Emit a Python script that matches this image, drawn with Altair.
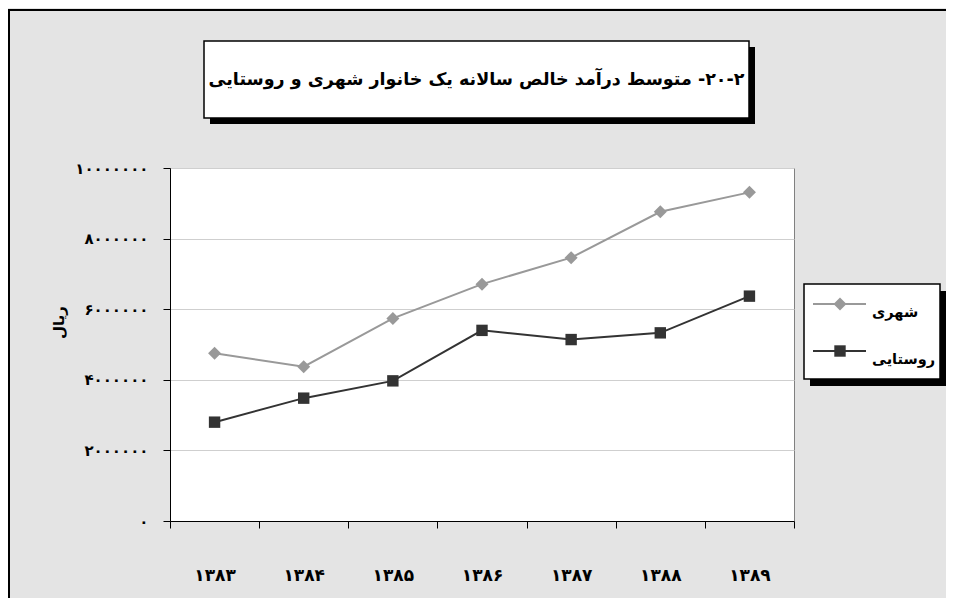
import altair as alt
import pandas as pd

# ---- data ----
years = ["۱۳۸۳", "۱۳۸۴", "۱۳۸۵", "۱۳۸۶", "۱۳۸۷", "۱۳۸۸", "۱۳۸۹"]
urban = [4750000, 4370000, 5740000, 6710000, 7460000, 8760000, 9310000]
rural = [2800000, 3480000, 3970000, 5400000, 5140000, 5330000, 6370000]
series_names = ["شهری", "روستایی"]
series_colors = ["#999999", "#333333"]
series_shapes = ["diamond", "square"]
series_sizes = [169, 130]
y_tick_values = [0, 2000000, 4000000, 6000000, 8000000, 10000000]
y_tick_labels = ["۰", "۲۰۰۰۰۰۰", "۴۰۰۰۰۰۰", "۶۰۰۰۰۰۰", "۸۰۰۰۰۰۰", "۱۰۰۰۰۰۰۰"]
title_text = "\u202b۲\u200f-۲۰\u200f- متوسط درآمد خالص سالانه یک خانوار شهری و روستایی\u202c"
y_title = "ریال"

FONT = "DejaVu Sans"
W, H = 624, 353

df = pd.DataFrame({
    "year": years * 2,
    "value": urban + rural,
    "series": [series_names[0]] * len(years) + [series_names[1]] * len(years),
})
legend_df = pd.DataFrame({"series": series_names, "idx": list(range(len(series_names)))})

label_expr = "{}[indexof({}, datum.value)]".format(
    "[" + ",".join("'%s'" % s for s in y_tick_labels) + "]",
    "[" + ",".join(str(v) for v in y_tick_values) + "]",
)

color_scale = alt.Scale(domain=series_names, range=series_colors)
shape_scale = alt.Scale(domain=series_names, range=series_shapes)
size_scale = alt.Scale(domain=series_names, range=series_sizes)

x_enc = alt.X(
    "year:N", sort=years, bandPosition=0.5,
    scale=alt.Scale(type="band", paddingInner=0, paddingOuter=0),
    axis=alt.Axis(title=None, tickBand="extent", tickSize=7, tickColor="#000000",
                  domainColor="#000000", labelFont=FONT, labelFontSize=17,
                  labelFontWeight="bold", labelColor="#000000", labelPadding=39,
                  labelAngle=0, grid=False),
)
y_enc = alt.Y(
    "value:Q", scale=alt.Scale(domain=[0, 10000000], nice=False),
    axis=alt.Axis(values=y_tick_values, labelExpr=label_expr, title=y_title,
                  titleFont=FONT, titleFontSize=15, titleFontWeight="bold",
                  titleColor="#000000", titleX=-112, titleY=154, titleAngle=270,
                  titleAlign="center", titleBaseline="middle",
                  tickSize=7, tickColor="#000000", domainColor="#000000",
                  labelFont=FONT, labelFontSize=15, labelFontWeight="bold",
                  labelColor="#000000", labelPadding=15,
                  grid=True, gridColor="#cfcfcf"),
)

lines = alt.Chart(df).mark_line(strokeWidth=2).encode(
    x=x_enc, y=y_enc,
    color=alt.Color("series:N", scale=color_scale, legend=None),
)
points = alt.Chart(df).mark_point(filled=True, opacity=1).encode(
    x=x_enc, y=y_enc,
    color=alt.Color("series:N", scale=color_scale, legend=None),
    shape=alt.Shape("series:N", scale=shape_scale, legend=None),
    size=alt.Size("series:N", scale=size_scale, legend=None),
)

# ---- framed legend (box with drop shadow), entries from the series arrays ----
LX0, LX1, LY0, LY1 = 634, 770, 116, 211
leg_base = alt.Chart(legend_df).transform_calculate(
    py="136 + 47 * datum.idx", ty="145 + 47 * datum.idx")
leg_shadow = alt.Chart(alt.Data(values=[{}])).mark_rect(fill="#000000").encode(
    x=alt.value(LX0 + 6), x2=alt.value(LX1 + 6), y=alt.value(LY0 + 7), y2=alt.value(LY1 + 7))
leg_box = alt.Chart(alt.Data(values=[{}])).mark_rect(fill="#ffffff", stroke="#000000", strokeWidth=1.5).encode(
    x=alt.value(LX0), x2=alt.value(LX1), y=alt.value(LY0), y2=alt.value(LY1))
leg_lines = leg_base.mark_rule(strokeWidth=2).encode(
    x=alt.value(643), x2=alt.value(696), y=alt.Y("py:Q", scale=None),
    color=alt.Color("series:N", scale=color_scale, legend=None))
leg_marks = leg_base.mark_point(filled=True, opacity=1).encode(
    x=alt.value(670), y=alt.Y("py:Q", scale=None),
    color=alt.Color("series:N", scale=color_scale, legend=None),
    shape=alt.Shape("series:N", scale=shape_scale, legend=None),
    size=alt.Size("series:N", scale=size_scale, legend=None))
leg_text = leg_base.mark_text(font=FONT, fontSize=14.5, fontWeight="bold", color="#000000",
                              align="left", baseline="middle").encode(
    x=alt.value(702), y=alt.Y("ty:Q", scale=None), text="series:N")

# ---- framed title ----
one = alt.Data(values=[{"t": title_text}])
border_left = alt.Chart(one).mark_rule(stroke="#000000", strokeWidth=2).encode(
    x=alt.value(-161), y=alt.value(-159), y2=alt.value(430))
border_top = alt.Chart(one).mark_rule(stroke="#000000", strokeWidth=2).encode(
    x=alt.value(-162), x2=alt.value(776), y=alt.value(-158))
title_shadow = alt.Chart(one).mark_rect(fill="#000000").encode(
    x=alt.value(40), x2=alt.value(585), y=alt.value(-121), y2=alt.value(-44))
title_box = alt.Chart(one).mark_rect(fill="#ffffff", stroke="#000000", strokeWidth=1.5).encode(
    x=alt.value(34), x2=alt.value(579), y=alt.value(-127), y2=alt.value(-50))
title_txt = alt.Chart(one).mark_text(font=FONT, fontSize=17.5, fontWeight="bold",
                                     color="#000000", align="center", baseline="middle").encode(
    x=alt.value(306.5), y=alt.value(-88), text="t:N")

chart = alt.layer(
    border_left, border_top, title_shadow, title_box, title_txt,
    leg_shadow, leg_box, leg_lines, leg_marks, leg_text,
    lines, points,
).properties(
    width=W, height=H,
    autosize=alt.AutoSizeParams(type="none"),
    padding={"left": 162, "top": 160, "right": 152, "bottom": 77},
    background="#e4e4e4",
).configure_view(fill="#ffffff", stroke="#808080", strokeWidth=1)

chart.save("out.html", embed_options={"renderer": "svg", "actions": False})
